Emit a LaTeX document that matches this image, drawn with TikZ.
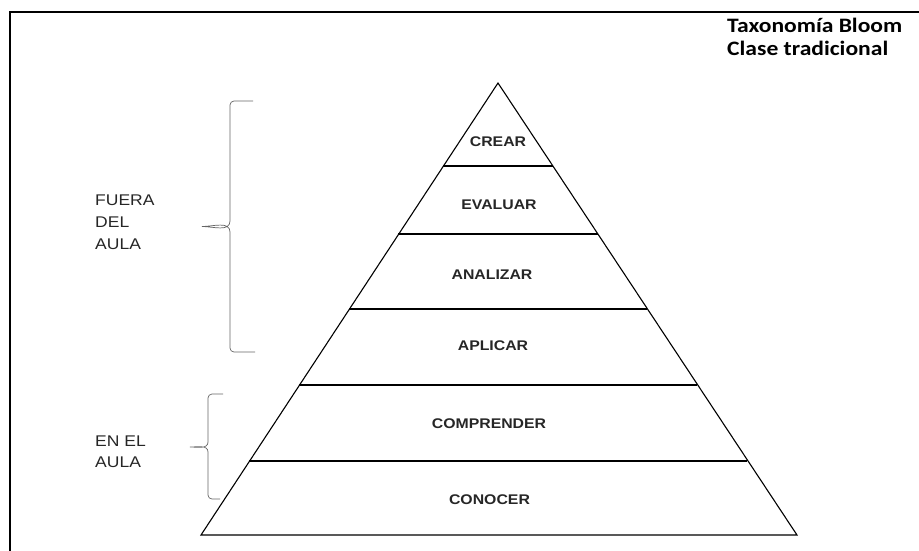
\documentclass[tikz,border=0pt]{standalone}
\usepackage{fontspec}
\newfontfamily\lvlfont[FakeStretch=1.13]{Liberation Sans}
\newfontfamily\ttlfont[FakeStretch=1.15]{Carlito}
\usetikzlibrary{calc}

\begin{document}
\begin{tikzpicture}[x=1pt,y=-1pt,
  level/.style={font=\lvlfont\bfseries\fontsize{14}{16}\selectfont, text=black!85, inner sep=0pt},
  side/.style={font=\lvlfont\fontsize{15.5}{22}\selectfont, align=left, anchor=north west, inner sep=0pt, text=black!85},
  brk/.style={draw=black!60, line width=0.7pt}]
\useasboundingbox (0,0) rectangle (919,550);
% frame
\draw[line width=2pt] (10,551) -- (10,12) -- (920,12);
\node[font=\ttlfont\bfseries\fontsize{20.5}{22.5}\selectfont, align=left, anchor=north west, inner sep=0pt] (title) at (727,18) {Taxonomía Bloom\\ Clase tradicional};
% pyramid
\coordinate (top) at (498,83);
\coordinate (bl) at (201,535);
\coordinate (br) at (797,535);
\draw[line width=1.1pt, line join=miter] (top) -- (br) -- (bl) -- cycle;
\foreach \y in {166,234,309,385,461}
  \draw[line width=1.3pt] ({498-0.6593*(\y-83)},\y) -- ({498+0.6593*(\y-83)},\y);
% levels
\node[level] (crear) at (498,142) {CREAR};
\node[level] (evaluar) at (499,205) {EVALUAR};
\node[level] (analizar) at (492,275) {ANALIZAR};
\node[level] (aplicar) at (493,346) {APLICAR};
\node[level] (comprender) at (489,423.5) {COMPRENDER};
\node[level] (conocer) at (489.5,500) {CONOCER};
% brackets
\draw[brk] (253,101) -- (234,101) to[out=180,in=90] (230,105) -- (230,221)
  to[out=-90,in=0] (202,226.5) to[out=0,in=90] (230,232) -- (230,348)
  to[out=-90,in=180] (234,352) -- (255,352);
\draw[brk] (223,394) -- (212,394) to[out=180,in=90] (208,398) -- (208,442)
  to[out=-90,in=0] (190,447) to[out=0,in=90] (208,452) -- (208,495)
  to[out=-90,in=180] (212,499) -- (220,499);
\node[side] (fuera) at (95,195) {FUERA\\ DEL\\ AULA};
\node[side, font=\lvlfont\fontsize{15.5}{21}\selectfont] (enel) at (95,435.5) {EN EL\\ AULA};
\end{tikzpicture}
\end{document}
